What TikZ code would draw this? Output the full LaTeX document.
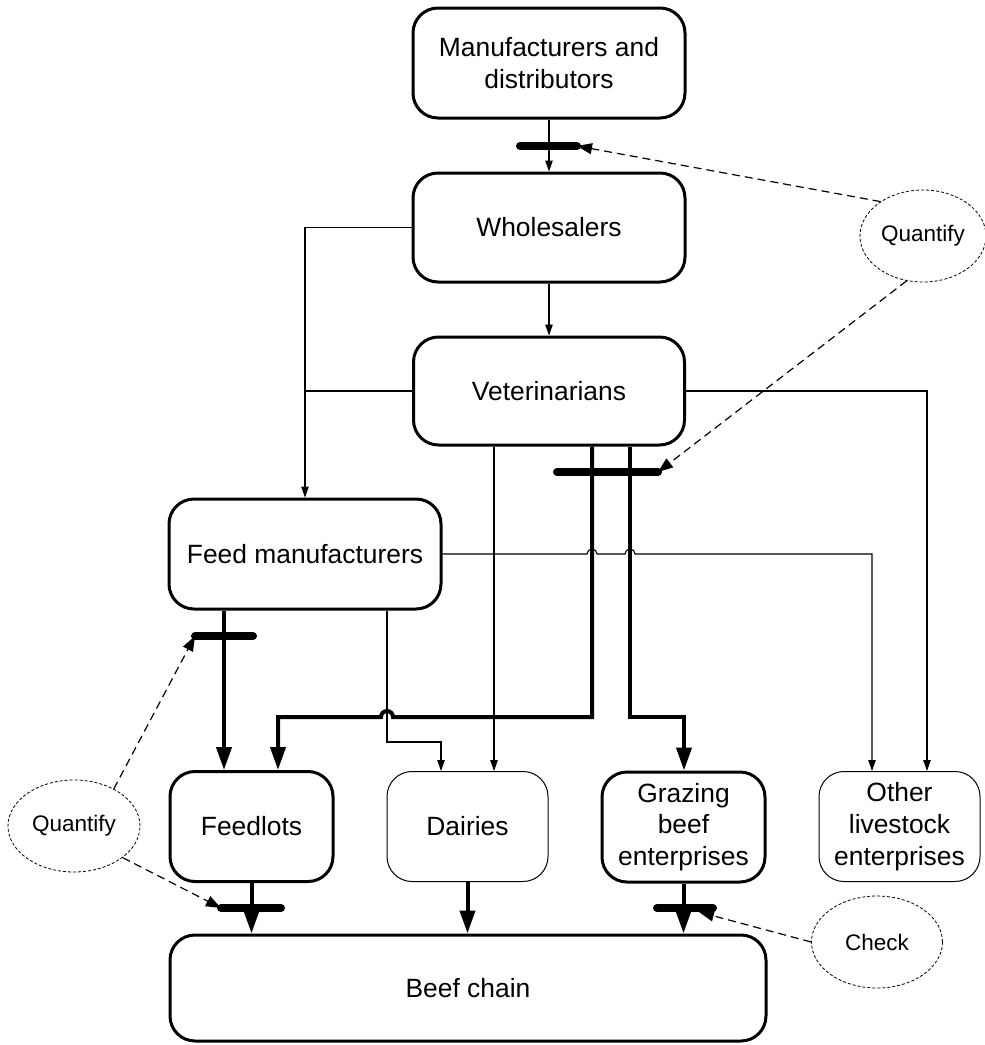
\documentclass[tikz,border=0pt]{standalone}
\usepackage{fontspec}
\setmainfont{Liberation Sans}
\usetikzlibrary{arrows.meta,shapes.geometric,calc}
\begin{document}
\begin{tikzpicture}[x=1pt,y=-1pt,
  box/.style={draw, line width=3pt, rounded corners=25pt, align=center, inner sep=0pt, font=\fontsize{26.4}{31.7}\selectfont},
  thinbox/.style={box, line width=1pt},
  oval/.style={draw, ellipse, line width=0.8pt, dash pattern=on 3pt off 2pt, inner sep=0pt, font=\fontsize{22.5}{27}\selectfont},
  thinln/.style={line width=1.1pt},
  thinarr/.style={line width=1.1pt, -{Triangle[length=11pt,width=7.5pt]}},
  thickarr/.style={line width=4pt, -{Triangle[length=23pt,width=15pt]}},
  gatebar/.style={line width=8pt, line cap=round},
  dasharr/.style={line width=1.2pt, dash pattern=on 8pt off 5pt, -{Triangle[length=15pt,width=11pt]}},
]
\useasboundingbox (0,0) rectangle (985,1045);

% nodes
\node[box, minimum width=272pt, minimum height=110pt] (man) at (549,63) {Manufacturers and\\distributors};
\node[box, minimum width=272pt, minimum height=109pt] (whole) at (549,227.5) {Wholesalers};
\node[box, minimum width=271pt, minimum height=108pt] (vet) at (549,391) {Veterinarians};
\node[box, minimum width=272pt, minimum height=110pt] (feed) at (305,554) {Feed manufacturers};
\node[box, minimum width=163pt, minimum height=110pt] (lots) at (251.5,826.5) {Feedlots};
\node[thinbox, minimum width=161pt, minimum height=110pt] (dairy) at (467.5,826.5) {Dairies};
\node[box, minimum width=163pt, minimum height=110pt] (graz) at (683.5,827) {Grazing\\beef\\enterprises};
\node[thinbox, minimum width=161pt, minimum height=110pt] (other) at (899.5,826.5) {Other\\livestock\\enterprises};
\node[box, minimum width=596pt, minimum height=106pt] (beef) at (468,988) {Beef chain};

\node[oval, minimum width=126pt, minimum height=92pt] (q1) at (923,236) {Quantify};
\node[oval, minimum width=132pt, minimum height=92pt] (q2) at (74,826) {Quantify};
\node[oval, minimum width=131pt, minimum height=92pt] (chk) at (877,942) {Check};

% routing coordinates
\coordinate (xA) at (224,0);
\coordinate (xB) at (278,0);
\coordinate (xC) at (387,0);
\coordinate (xD) at (441,0);
\coordinate (xE) at (494,0);
\coordinate (t1) at (592,0);
\coordinate (t2) at (630,0);
\coordinate (xG) at (684,0);
\coordinate (xO1) at (872,0);
\coordinate (xO2) at (927,0);
\coordinate (yH) at (0,717);
\coordinate (yT) at (0,742);

% gate bar ends
\coordinate (b1l) at (520,146);  \coordinate (b1r) at (577,146);
\coordinate (b2l) at (557,472);  \coordinate (b2r) at (658,472);
\coordinate (b3l) at (195,636);  \coordinate (b3r) at (253,636);
\coordinate (b4l) at (221,908);  \coordinate (b4r) at (281,908);
\coordinate (b5l) at (657,908);  \coordinate (b5r) at (713,908);
\coordinate (b5a) at (699,912);

% thin connectors
\draw[thinarr] (man) -- (whole);
\draw[thinarr] (whole) -- (vet);
\draw[thinarr] (whole.west) -| (feed.north);
\draw[thinln] (vet.west) -- (vet.west -| feed.north);
\draw[thinarr] (vet.east) -| (other.north -| xO2);
\draw[thinarr] (feed.east) -- ($(feed.east -| t1)+(-5,0)$) arc[start angle=180,end angle=0,radius=5pt]
   -- ($(feed.east -| t2)+(-5,0)$) arc[start angle=180,end angle=0,radius=5pt]
   -- (feed.east -| xO1) -- (other.north -| xO1);
\draw[thinarr] (vet.south -| xE) -- (dairy.north -| xE);
\draw[thinarr] (feed.south -| xC) -- (xC |- yT) -- (xD |- yT) -- (dairy.north -| xD);

% thick connectors
\draw[thickarr] (vet.south -| t1) -- (t1 |- yH) -- ($(xC |- yH)+(6,0)$) arc[start angle=0,end angle=180,radius=6pt]
   -- (xB |- yH) -- (lots.north -| xB);
\draw[thickarr] (vet.south -| t2) -- (t2 |- yH) -- (xG |- yH) -- (graz.north -| xG);
\draw[thickarr] (feed.south -| xA) -- (lots.north -| xA);
\draw[thickarr] (lots.south) -- (lots.south |- beef.north);
\draw[thickarr] (dairy.south) -- (dairy.south |- beef.north);
\draw[thickarr] (graz.south) -- (graz.south |- beef.north);

% gate bars
\draw[gatebar] (b1l) -- (b1r);
\draw[gatebar] (b2l) -- (b2r);
\draw[gatebar] (b3l) -- (b3r);
\draw[gatebar] (b4l) -- (b4r);
\draw[gatebar] (b5l) -- (b5r);

% dashed arrows
\draw[dasharr] (q1.141) -- (b1r);
\draw[dasharr] (q1.250) -- (b2r);
\draw[dasharr] (q2.43) -- (b3l);
\draw[dasharr] (q2.-33) -- (b4l);
\draw[dasharr] (chk.west) -- (b5a);
\end{tikzpicture}
\end{document}
